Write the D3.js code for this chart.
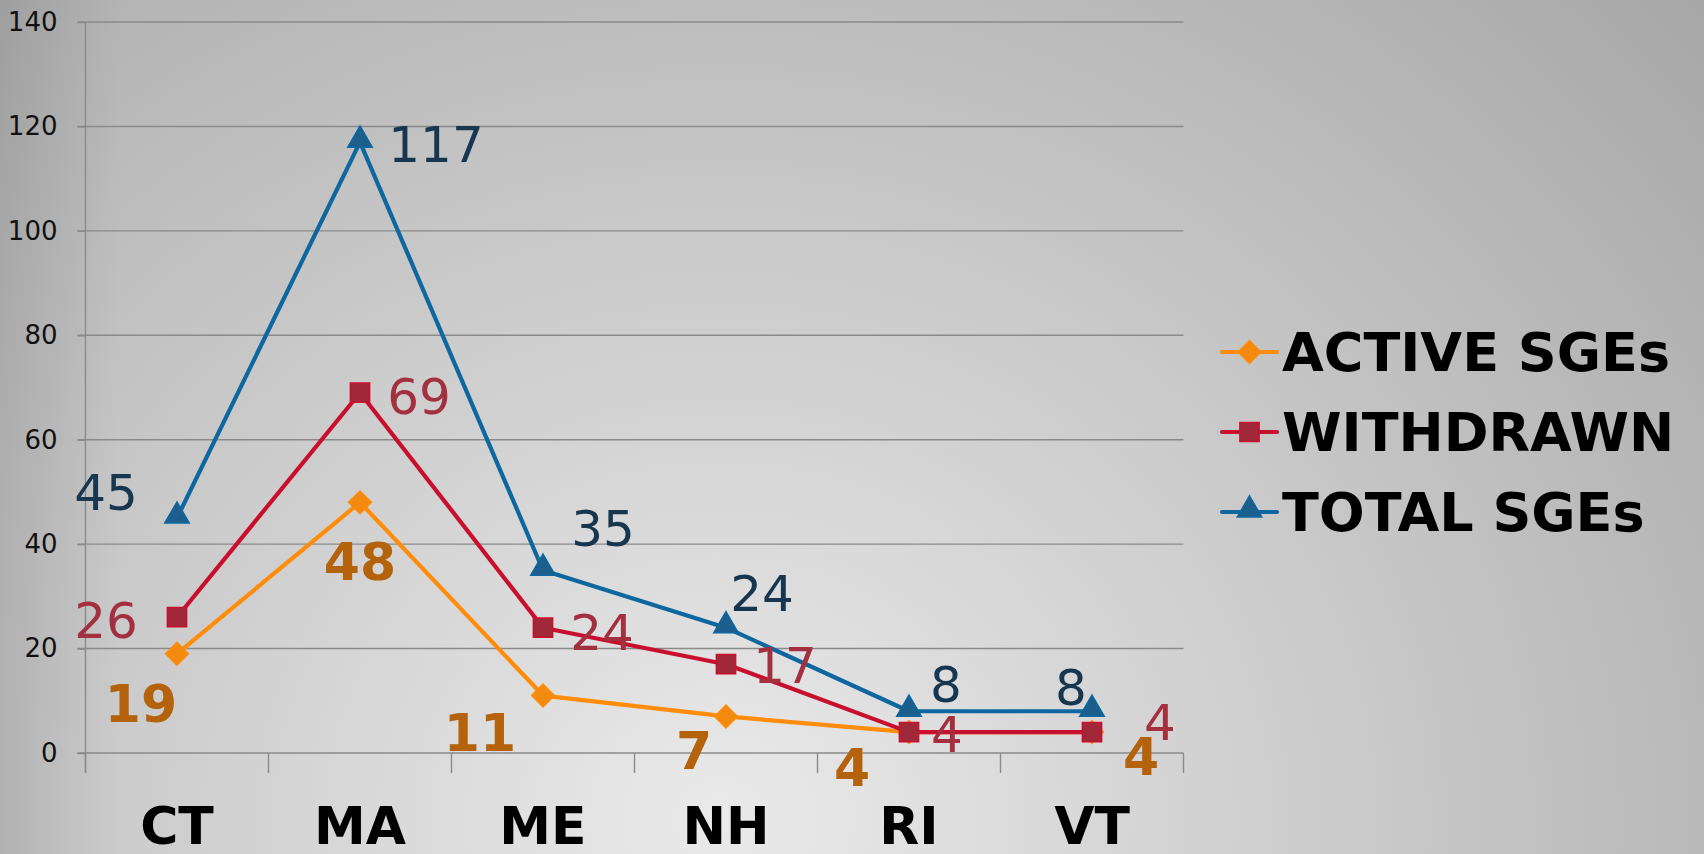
<!DOCTYPE html>
<html>
<head>
<meta charset="utf-8">
<script src="https://cdn.jsdelivr.net/npm/d3@7"></script>
<style>
html,body{margin:0;padding:0;background:#ccc;overflow:hidden;}
svg{display:block;}
</style>
</head>
<body>
<svg id="chart" width="1704" height="854"></svg>
<script>
// ---- data ----
const categories = ["CT", "MA", "ME", "NH", "RI", "VT"];
const activeSGEs = [19, 48, 11, 7, 4, 4];
const withdrawnSGEs = [26, 69, 24, 17, 4, 4];
const totalSGEs = [45, 117, 35, 24, 8, 8];
const yTickValues = [0, 20, 40, 60, 80, 100, 120, 140];
const seriesNames = ["ACTIVE SGEs", "WITHDRAWN", "TOTAL SGEs"];

// label nudges (px) relative to each point (manual placement as in the original)
const activeLabelOffsets = [[-36, 49], [0, 59], [-63, 37], [-32, 34], [-57, 35], [49, 24]];
const withdrawnLabelOffsets = [[-71, 3], [59, 3], [59, 4], [59, 1], [38, 2], [68, -10]];
const totalLabelOffsets = [[-71, -26], [76, 2], [60, -42], [36, -35], [37, -27], [-21, -24]];

// ---- layout ----
const W = 1704, H = 854;
const plot = {left: 85.5, right: 1183.5, top: 22, bottom: 753};
const svg = d3.select("#chart");
const defs = svg.append("defs");

// background gradient
const rg = defs.append("radialGradient").attr("id", "bg")
  .attr("gradientUnits", "userSpaceOnUse")
  .attr("cx", 720).attr("cy", 820).attr("r", 1375)
  .attr("gradientTransform", "translate(720,820) scale(1,0.909) translate(-720,-820)");
rg.append("stop").attr("offset", 0).attr("stop-color", "#eaeaea");
rg.append("stop").attr("offset", 1).attr("stop-color", "#a5a5a5");
const lg = defs.append("linearGradient").attr("id", "vign")
  .attr("x1", 0).attr("x2", 1).attr("y1", 0).attr("y2", 0);
lg.append("stop").attr("offset", 0).attr("stop-color", "#000").attr("stop-opacity", 0.1);
lg.append("stop").attr("offset", 1).attr("stop-color", "#000").attr("stop-opacity", 0);
svg.append("rect").attr("width", W).attr("height", H).attr("fill", "url(#bg)");
svg.append("rect").attr("width", 120).attr("height", H).attr("fill", "url(#vign)");

// scales
const x = d3.scaleBand().domain(categories).range([plot.left, plot.right]).padding(0);
const cx = c => x(c) + x.bandwidth() / 2;
const y = d3.scaleLinear().domain([0, 140]).range([plot.bottom, plot.top]);

const gridColor = "#8a8a8a";

// gridlines
svg.append("g").selectAll("line").data(yTickValues).join("line")
  .attr("x1", plot.left - 8).attr("x2", plot.right)
  .attr("y1", d => y(d)).attr("y2", d => y(d))
  .attr("stroke", gridColor).attr("stroke-width", 1.4);

// y axis (labels)
const yAxis = d3.axisLeft(y).tickValues(yTickValues).tickSize(8).tickPadding(20);
const gy = svg.append("g").attr("transform", `translate(${plot.left},0)`).call(yAxis);
gy.select(".domain").remove();
gy.selectAll(".tick line").attr("stroke", gridColor).attr("stroke-width", 1.4);
gy.selectAll(".tick text").attr("font-family", "DejaVu Sans, Verdana, sans-serif")
  .attr("font-size", 26).attr("fill", "#111");
// y axis line
svg.append("line").attr("x1", plot.left).attr("x2", plot.left)
  .attr("y1", plot.top).attr("y2", plot.bottom + 20)
  .attr("stroke", gridColor).attr("stroke-width", 1.4);

// x axis boundary ticks
const boundaries = categories.map(c => x(c)).concat([plot.right]);
svg.append("g").selectAll("line").data(boundaries).join("line")
  .attr("x1", d => d).attr("x2", d => d)
  .attr("y1", plot.bottom).attr("y2", plot.bottom + 20)
  .attr("stroke", gridColor).attr("stroke-width", 1.4);

// x axis labels
const xAxis = d3.axisBottom(x).tickSize(0).tickPadding(0);
const gx = svg.append("g").attr("transform", `translate(0,${plot.bottom})`).call(xAxis);
gx.select(".domain").remove();
gx.selectAll(".tick text")
  .attr("y", 91).attr("dy", 0)
  .attr("font-family", "DejaVu Sans, Verdana, sans-serif")
  .attr("font-weight", "bold").attr("font-size", 52).attr("fill", "#000");

// series
const series = [
  {name: seriesNames[0], values: activeSGEs, offsets: activeLabelOffsets,
   line: "#ff8c0a", fill: "#f28a0e", stroke: "#ff8c0a", sym: "diamond",
   label: "#b4620c", weight: "bold", fsize: 52},
  {name: seriesNames[1], values: withdrawnSGEs, offsets: withdrawnLabelOffsets,
   line: "#c8102e", fill: "#a12839", stroke: "#c8102e", sym: "square",
   label: "#a3303f", weight: "normal", fsize: 50},
  {name: seriesNames[2], values: totalSGEs, offsets: totalLabelOffsets,
   line: "#0f67a0", fill: "#1c5e8c", stroke: "#0f67a0", sym: "triangle",
   label: "#173650", weight: "normal", fsize: 50}
];

function symbolPath(sym) {
  if (sym === "diamond") return d3.symbol().type(d3.symbolSquare).size(260)();
  if (sym === "square") return d3.symbol().type(d3.symbolSquare).size(370)();
  return d3.symbol().type(d3.symbolTriangle).size(260)();
}
function symbolTransform(sym, px, py) {
  if (sym === "diamond") return `translate(${px},${py}) rotate(45)`;
  if (sym === "triangle") return `translate(${px},${py - 2})`;
  return `translate(${px},${py})`;
}

const lineGen = d3.line().x((d, i) => cx(categories[i])).y(d => y(d));

series.forEach(s => {
  const g = svg.append("g");
  g.append("path").datum(s.values).attr("d", lineGen)
    .attr("fill", "none").attr("stroke", s.line).attr("stroke-width", 4.2)
    .attr("stroke-linejoin", "round");
  g.selectAll("path.m").data(s.values).join("path").attr("class", "m")
    .attr("d", symbolPath(s.sym))
    .attr("transform", (d, i) => symbolTransform(s.sym, cx(categories[i]), y(d)))
    .attr("fill", s.fill).attr("stroke", s.stroke).attr("stroke-width", 1.5);
});

// data labels (drawn after all lines)
series.forEach(s => {
  svg.append("g").selectAll("text").data(s.values).join("text")
    .attr("x", (d, i) => cx(categories[i]) + s.offsets[i][0])
    .attr("y", (d, i) => y(d) + s.offsets[i][1])
    .attr("dy", "0.36em")
    .attr("text-anchor", "middle")
    .attr("font-family", "DejaVu Sans, Verdana, sans-serif")
    .attr("font-size", s.fsize).attr("font-weight", s.weight)
    .attr("fill", s.label)
    .text(d => d);
});

// legend
const legendX = 1222, legendY = [352, 432, 512];
const leg = svg.append("g");
series.forEach((s, i) => {
  const gy2 = legendY[i];
  leg.append("line").attr("x1", legendX).attr("x2", legendX + 55)
    .attr("y1", gy2).attr("y2", gy2)
    .attr("stroke", s.line).attr("stroke-width", 4.2).attr("stroke-linecap", "round");
  leg.append("path").attr("d", symbolPath(s.sym))
    .attr("transform", symbolTransform(s.sym, legendX + 27.5, gy2))
    .attr("fill", s.fill).attr("stroke", s.stroke).attr("stroke-width", 1.5);
  leg.append("text").attr("x", legendX + 60).attr("y", gy2).attr("dy", "0.36em")
    .attr("font-family", "DejaVu Sans, Verdana, sans-serif")
    .attr("font-weight", "bold").attr("font-size", 54).attr("fill", "#000")
    .text(s.name);
});
</script>
</body>
</html>
